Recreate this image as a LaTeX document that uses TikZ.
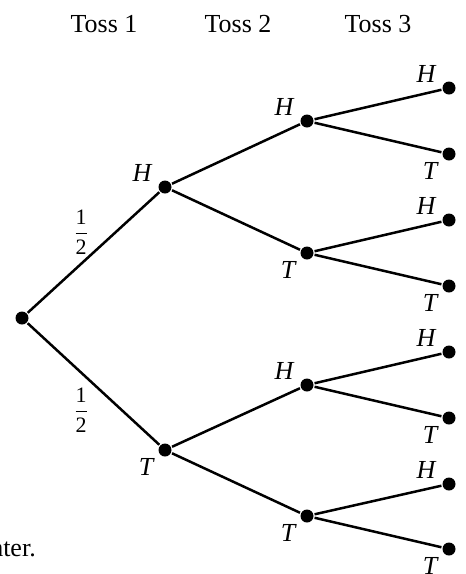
\documentclass[tikz,border=0pt]{standalone}
\usepackage{amsmath}
\usepackage{fontspec}
\setmainfont{Liberation Serif}
\usetikzlibrary{positioning}

\begin{document}
\begin{tikzpicture}[x=0.5pt, y=-0.5pt, line width=1.25pt,
        every node/.style={font=\fontsize{13}{15}\selectfont},
        dot/.style={circle, fill, inner sep=0pt, minimum size=6.5pt},
        prob/.style={font=\fontsize{11}{12}\selectfont},
        hlab/.style={label={[font=\fontsize{13}{15}\selectfont\itshape, shift={(-23,-14)}]center:H}},
        tlab/.style={label={[font=\fontsize{13}{15}\selectfont\itshape, shift={(-19,17)}]center:T}}]
        \useasboundingbox (0,0) rectangle (466,574);

        % column headings
        \node[anchor=base] (toss1) at (104,32) {Toss 1};
        \node[anchor=base] (toss2) at (238,32) {Toss 2};
        \node[anchor=base] (toss3) at (378,32) {Toss 3};

        % root and first toss
        \node[dot] (r) at (22,318) {};
        \node[dot, hlab] (h) at (165,187) {};
        \node[dot, tlab] (t) at (165,450) {};

        % second toss
        \node[dot, hlab] (hh) at (307,121) {};
        \node[dot, tlab] (ht) at (307,253) {};
        \node[dot, hlab] (th) at (307,385) {};
        \node[dot, tlab] (tt) at (307,516) {};

        % third toss
        \node[dot, hlab] (hhh) at (449,88) {};
        \node[dot, tlab] (hht) at (449,154) {};
        \node[dot, hlab] (hth) at (449,220) {};
        \node[dot, tlab] (htt) at (449,286) {};
        \node[dot, hlab] (thh) at (449,352) {};
        \node[dot, tlab] (tht) at (449,418) {};
        \node[dot, hlab] (tth) at (449,484) {};
        \node[dot, tlab] (ttt) at (449,549) {};

        % branches
        \draw (r) -- (h);
        \draw (r) -- (t);
        \draw (h) -- (hh);
        \draw (h) -- (ht);
        \draw (t) -- (th);
        \draw (t) -- (tt);
        \draw (hh) -- (hhh);
        \draw (hh) -- (hht);
        \draw (ht) -- (hth);
        \draw (ht) -- (htt);
        \draw (th) -- (thh);
        \draw (th) -- (tht);
        \draw (tt) -- (tth);
        \draw (tt) -- (ttt);

        % probabilities
        \node[prob] (ph) at (81,232) {$\dfrac{\text{1}}{\text{2}}$};
        \node[prob] (pt) at (81,410) {$\dfrac{\text{1}}{\text{2}}$};

        % cut-off text
        \node[anchor=base east, inner sep=0pt] (cut) at (37,556) {nter.};
    \end{tikzpicture}
\end{document}
